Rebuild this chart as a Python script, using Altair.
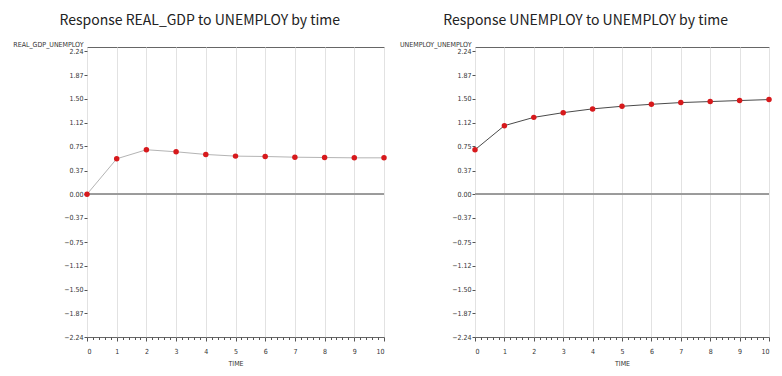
import altair as alt
import pandas as pd

time = list(range(11))
real_gdp = [0.0, 0.556, 0.698, 0.666, 0.624, 0.598, 0.592, 0.581, 0.576, 0.571, 0.571]
unemploy = [0.698, 1.076, 1.206, 1.28, 1.339, 1.38, 1.411, 1.438, 1.454, 1.47, 1.485]

titles = ["Response REAL_GDP to UNEMPLOY by time", "Response UNEMPLOY to UNEMPLOY by time"]
ytitles = ["REAL_GDP_UNEMPLOY", "UNEMPLOY_UNEMPLOY"]
line_colors = ["#b4b4b4", "#4a4a4a"]

y_ticks = [2.24, 1.87, 1.50, 1.12, 0.75, 0.37, 0.0, -0.37, -0.75, -1.12, -1.50, -1.87, -2.24]
x_ticks = [round(i * 0.2, 1) for i in range(51)]

FONT = "Liberation Sans Narrow, DejaVu Sans Condensed, sans-serif"
TFONT = "Noto Sans CJK KR, Noto Sans, sans-serif"
is_int = "abs(datum.value - round(datum.value)) < 0.001"


def panel(values, title, ytitle, lc, w):
    df = pd.DataFrame({"TIME": time, "value": values})
    xscale = alt.Scale(domain=[0, 10], nice=False)
    yscale = alt.Scale(domain=[-2.24, 2.31], nice=False, zero=False)
    xaxis = alt.Axis(values=x_ticks, title="TIME", domain=False, labelOverlap=False,
                     labelExpr=f"{is_int} ? format(datum.value, 'd') : ''",
                     gridColor={"condition": {"test": is_int, "value": "#e2e2e2"}, "value": "transparent"},
                     tickSize={"condition": {"test": is_int, "value": 4}, "value": 2.5},
                     labelPadding=6, titlePadding=5)
    yaxis = alt.Axis(values=y_ticks, format=".2f", title=ytitle, domain=False, labelOverlap=False,
                     titleAngle=0, titleAlign="right", titleBaseline="middle",
                     titleX=-4, titleY=-3, tickSize=3, labelPadding=1)
    x = alt.X("TIME:Q", scale=xscale, axis=xaxis)
    y = alt.Y("value:Q", scale=yscale, axis=yaxis)
    base = alt.Chart(df).encode(x=x, y=y)
    zero = base.mark_rule(color="#9a9a9a", strokeWidth=1).encode(
        y=alt.YDatum(0, scale=yscale, axis=yaxis), x=alt.value(0), x2=alt.value(w))
    line = base.mark_line(color=lc, strokeWidth=1)
    pts = base.mark_circle(color="#d7191c", size=30, opacity=1)
    return alt.layer(zero, line, pts).properties(
        width=w, height=290,
        title=alt.TitleParams(title, frame="bounds", anchor="middle", fontSize=14, dy=-1,
                              fontWeight="normal", font=TFONT, color="#222", offset=11))


left = panel(real_gdp, titles[0], ytitles[0], line_colors[0], 297)
right = panel(unemploy, titles[1], ytitles[1], line_colors[1], 294)

chart = alt.hconcat(left, right, spacing=10).properties(
    padding={"left": 4, "top": 5, "right": 0, "bottom": 0}
).configure_view(
    stroke="#666666", strokeWidth=1
).configure_axis(
    labelFont=FONT, titleFont=FONT, labelFontSize=7, titleFontSize=7,
    labelColor="#333", titleColor="#333", titleFontWeight="normal",
    gridColor="#e2e2e2", tickColor="#555"
)

chart.save("out.html", embed_options={"renderer": "svg", "actions": False})
